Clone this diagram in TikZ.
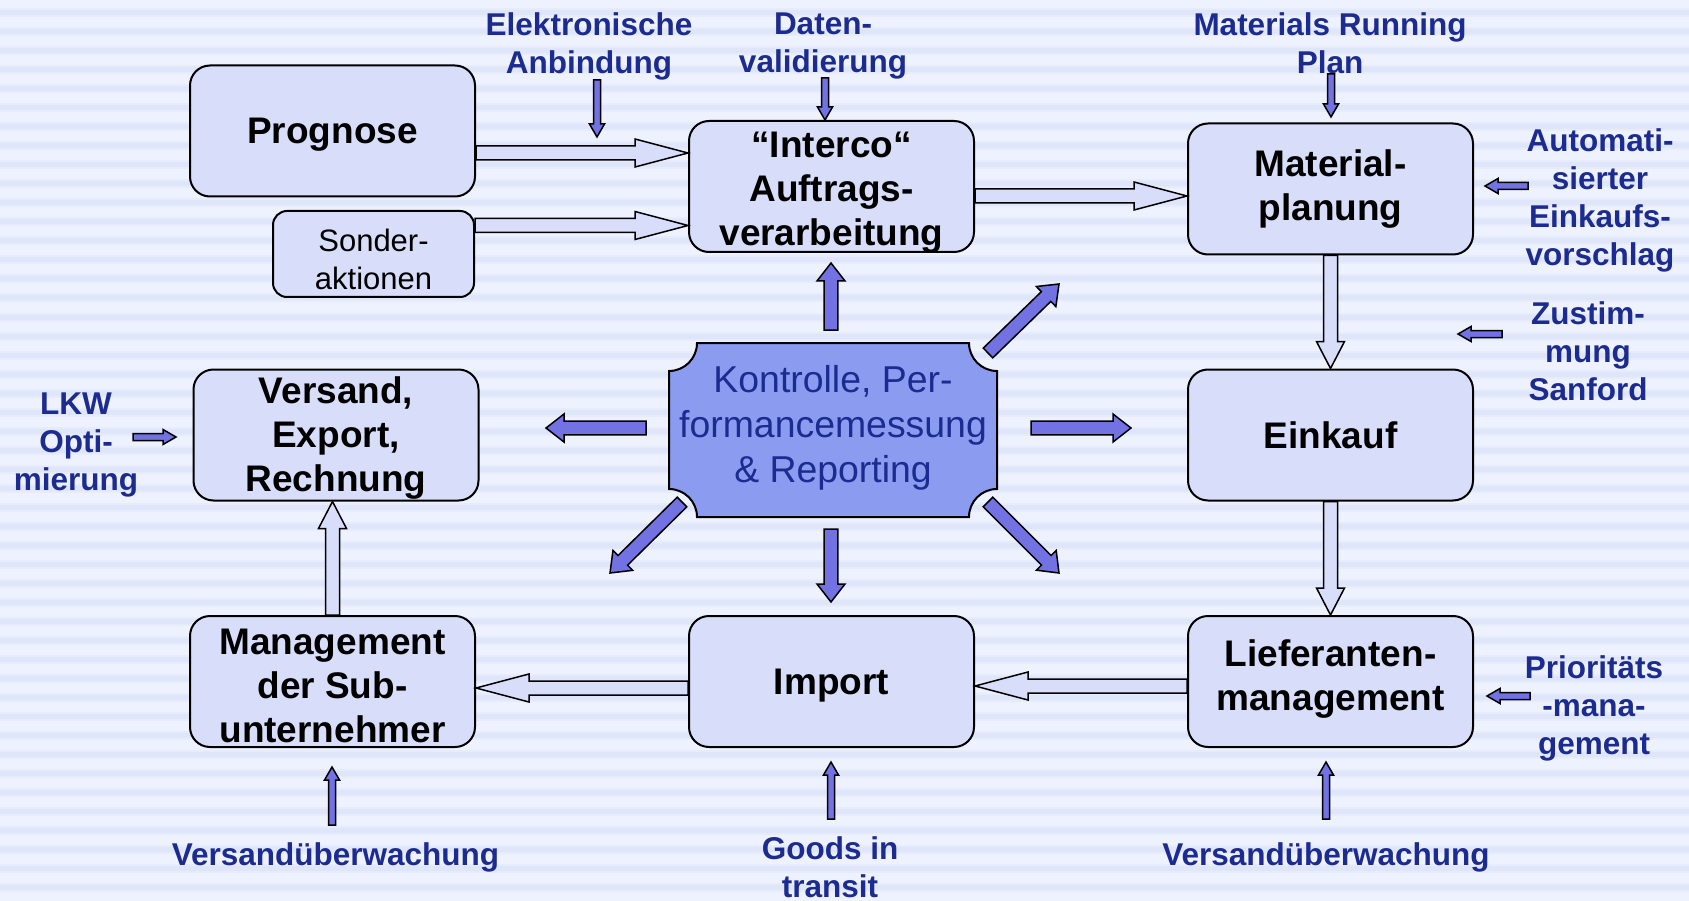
\documentclass[tikz,border=0pt]{standalone}
\usepackage{fontspec}
\setmainfont{Liberation Sans}
\usetikzlibrary{calc}
\definecolor{bglight}{HTML}{EEF2FF}
\definecolor{bgmid}{HTML}{E7ECFC}
\definecolor{bgdark}{HTML}{E0E6FA}
\definecolor{boxfill}{HTML}{D8DEFA}
\definecolor{ctrlfill}{HTML}{8A9BF0}
\definecolor{purp}{HTML}{7272E2}
\definecolor{navy}{HTML}{1C2B8F}
\newcommand{\bxfont}{\fontsize{37}{44}\selectfont\bfseries}
\newcommand{\lblfont}{\fontsize{31.5}{38}\selectfont\bfseries}
\newcommand{\ctrlfont}{\fontsize{37.4}{45}\selectfont}
\newcommand{\sofont}{\fontsize{31}{38}\selectfont}
% #1 style, #2 start, #3 tip, #4 shaft half width, #5 head half width, #6 head length
\newcommand{\blockarrow}[6]{%
  \coordinate (ba-c) at ($(#3)!#6!(#2)$);
  \path[#1] ($(#2)!#4!90:(#3)$) -- ($(ba-c)!#4!-90:(#2)$) -- ($(ba-c)!#5!-90:(#2)$)
    -- (#3) -- ($(ba-c)!#5!90:(#2)$) -- ($(ba-c)!#4!90:(#2)$) -- ($(#2)!#4!-90:(#3)$) -- cycle;
}
% #1 extra style, #2 text shift, #3 name, #4 position, #5 text
\newcommand{\bx}[5]{%
  \node[box, #1, label={[bxtext, yshift=#2]center:{#5}}] (#3) at (#4) {};
}
\tikzset{
  box/.style={draw=black, line width=2pt, fill=boxfill, rounded corners=20pt,
    minimum width=285pt, minimum height=131pt, inner sep=0pt},
  bxtext/.style={align=center, font=\bxfont, inner sep=0pt, text=black},
  sotext/.style={align=center, font=\sofont, inner sep=0pt, text=black},
  lbl/.style={align=center, text=navy, font=\lblfont, inner sep=0pt},
  hollow/.style={draw=black, line width=1.5pt, fill=boxfill, line join=miter},
  solid/.style={draw=black, line width=1.5pt, fill=purp, line join=miter},
}
\begin{document}
\begin{tikzpicture}[x=1pt, y=-1pt]
\useasboundingbox (0,0) rectangle (1689,901);
% background stripes
\fill[bglight] (0,0) rectangle (1689,901);
\foreach \k in {0,...,47} {
  \fill[bgmid] (0,{13+19*\k-4.5}) rectangle (1689,{13+19*\k+4.5});
  \fill[bgdark] (0,{13+19*\k-2.5}) rectangle (1689,{13+19*\k+2.5});
}
% boxes
\bx{}{-4pt}{prog}{332.5,131}{Prognose}
\node[box, rounded corners=14pt, minimum width=201pt, minimum height=86pt,
  label={[sotext, yshift=-5.5pt]center:{Sonder-\\aktionen}}] (sonder) at (373.5,254) {};
\bx{}{-6pt}{interco}{831.5,186.5}{“Interco“\\Auftrags-\\verarbeitung}
\bx{}{0pt}{mat}{1330.5,189}{Material-\\planung}
\bx{}{-3pt}{vers}{336,435}{Versand,\\Export,\\Rechnung}
\bx{}{0pt}{eink}{1330.5,435}{Einkauf}
\bx{}{-4pt}{mgmt}{332.5,681.5}{Management\\der Sub-\\unternehmer}
\bx{}{-4pt}{imp}{831.5,681.5}{Import}
\bx{}{2pt}{lief}{1330.5,681.5}{Lieferanten-\\management}
% central shape
\draw[line width=2pt, fill=ctrlfill] (697,343) -- (969,343)
  arc[start angle=180, end angle=270, radius=28pt] -- (997,489)
  arc[start angle=90, end angle=180, radius=28pt] -- (697,517)
  arc[start angle=0, end angle=90, radius=28pt] -- (669,371)
  arc[start angle=-90, end angle=0, radius=28pt] -- cycle;
\node[align=center, text=navy, font=\ctrlfont, minimum width=328pt, minimum height=174pt, inner sep=0pt] (ctrl) at (833,427.5) {Kontrolle, Per-\\formancemessung\\\& Reporting};
% labels
\node[lbl] (l-el) at (589,46) {Elektronische\\Anbindung};
\node[lbl] (l-da) at (823,46.5) {Daten-\\validierung};
\node[lbl] (l-mr) at (1330,43) {Materials Running\\Plan};
\node[lbl] (l-au) at (1600,200) {Automati-\\sierter\\Einkaufs-\\vorschlag};
\node[lbl] (l-zu) at (1588,351) {Zustim-\\mung\\Sanford};
\node[lbl] (l-lk) at (76,445) {LKW\\Opti-\\mierung};
\node[lbl] (l-pr) at (1594,708.5) {Prioritäts\\-mana-\\gement};
\node[lbl] (l-vl) at (335.5,857) {Versandüberwachung};
\node[lbl] (l-vr) at (1326,857) {Versandüberwachung};
\node[lbl] (l-go) at (830,867) {Goods in\\transit};
% hollow flow arrows
\coordinate (h1a) at ([yshift=-22pt]prog.east);
\coordinate (h1b) at (interco.west |- h1a);
\blockarrow{hollow}{h1a}{h1b}{7pt}{14pt}{53pt}
\coordinate (h2a) at ([yshift=28.5pt]sonder.east);
\coordinate (h2b) at (interco.west |- h2a);
\blockarrow{hollow}{h2a}{h2b}{7pt}{14pt}{53pt}
\coordinate (h3a) at ([yshift=-9.5pt]interco.east);
\coordinate (h3b) at (mat.west |- h3a);
\blockarrow{hollow}{h3a}{h3b}{7pt}{14pt}{53pt}
\blockarrow{hollow}{mat.south}{eink.north}{7pt}{14pt}{27pt}
\blockarrow{hollow}{eink.south}{lief.north}{7pt}{14pt}{27pt}
\coordinate (h6a) at ([yshift=-4.5pt]lief.west);
\coordinate (h6b) at (imp.east |- h6a);
\blockarrow{hollow}{h6a}{h6b}{7pt}{14pt}{53pt}
\coordinate (h7a) at ([yshift=-6.5pt]imp.west);
\coordinate (h7b) at (mgmt.east |- h7a);
\blockarrow{hollow}{h7a}{h7b}{7pt}{14pt}{53pt}
\coordinate (h8b) at (vers.south -| mgmt.north);
\blockarrow{hollow}{mgmt.north}{h8b}{7pt}{14pt}{27pt}
% radial arrows from the centre
\coordinate (r-u1) at (831,330);  \coordinate (r-u2) at (831,263);
\coordinate (r-d1) at (831,529);  \coordinate (r-d2) at (831,602);
\coordinate (r-l1) at (646,428);  \coordinate (r-l2) at (546,428);
\coordinate (r-r1) at (1031,428); \coordinate (r-r2) at (1131,428);
\coordinate (r-ur1) at (988,353); \coordinate (r-ur2) at (1059,284);
\coordinate (r-dr1) at (988,502); \coordinate (r-dr2) at (1059,573);
\coordinate (r-dl1) at (682,502); \coordinate (r-dl2) at (610,573);
\foreach \n in {u,d,l,r,ur,dr,dl} {
  \blockarrow{solid}{r-\n1}{r-\n2}{6.8pt}{14pt}{18pt}
}
% small input arrows
\coordinate (s-el1) at (597,80);   \coordinate (s-el2) at (597,137);
\coordinate (s-da1) at (825,78);   \coordinate (s-da2) at (interco.north -| s-da1);
\coordinate (s-mr1) at (1331,74);  \coordinate (s-mr2) at (1331,117);
\coordinate (s-au1) at (1528,186); \coordinate (s-au2) at (1485,186);
\coordinate (s-zu1) at (1502,334); \coordinate (s-zu2) at (1458,334);
\coordinate (s-pr1) at (1530,696); \coordinate (s-pr2) at (1487,696);
\coordinate (s-lk1) at (133,437);  \coordinate (s-lk2) at (176,437);
\coordinate (s-vl1) at (332,825);  \coordinate (s-vl2) at (332,767);
\coordinate (s-go1) at (831,819);  \coordinate (s-go2) at (831,762);
\coordinate (s-vr1) at (1326,819); \coordinate (s-vr2) at (1326,762);
\foreach \n in {el,da,mr,au,zu,pr,lk,vl,go,vr} {
  \blockarrow{solid}{s-\n1}{s-\n2}{3.5pt}{7.5pt}{13pt}
}
\end{tikzpicture}
\end{document}
